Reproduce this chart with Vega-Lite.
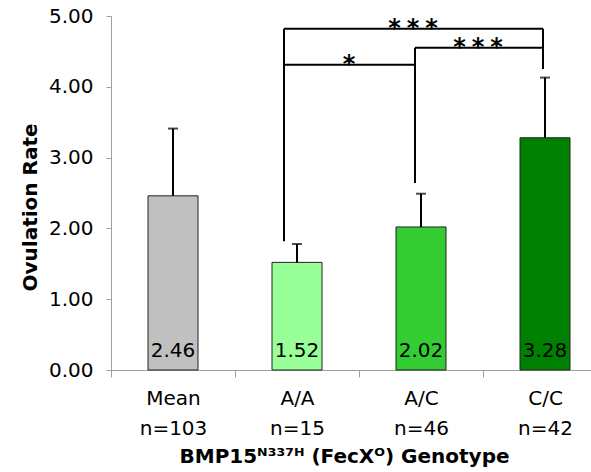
{
  "$schema": "https://vega.github.io/schema/vega-lite/v6.json",
  "autosize": {"type": "none"},
  "padding": {"left": 111, "top": 16, "right": 0, "bottom": 102},
  "width": 496,
  "height": 354,
  "background": "white",
  "config": {
    "font": "DejaVu Sans",
    "view": {"stroke": null}
  },
  "datasets": {
    "bars": [
      {"group": "Mean n=103", "rate": 2.46, "upper": 3.41},
      {"group": "A/A n=15", "rate": 1.52, "upper": 1.78},
      {"group": "A/C n=46", "rate": 2.02, "upper": 2.49},
      {"group": "C/C n=42", "rate": 3.28, "upper": 4.13}
    ],
    "brackets": [
      {"name": "outer", "from": "A/A n=15", "to": "C/C n=42", "level": 4.82, "stars": "*\u2005*\u2005*"},
      {"name": "inner", "from": "A/C n=46", "to": "C/C n=42", "level": 4.55, "stars": "*\u2005*\u2005*"},
      {"name": "single", "from": "A/A n=15", "to": "A/C n=46", "level": 4.31, "stars": "*"}
    ],
    "legs": [
      {"group": "A/A n=15", "low": 1.82, "high": 4.82},
      {"group": "A/C n=46", "low": 2.64, "high": 4.55},
      {"group": "C/C n=42", "low": 4.25, "high": 4.82}
    ]
  },
  "data": {"name": "bars"},
  "encoding": {
    "x": {
      "field": "group",
      "type": "nominal",
      "sort": ["Mean n=103", "A/A n=15", "A/C n=46", "C/C n=42"],
      "scale": {"domain": ["Mean n=103", "A/A n=15", "A/C n=46", "C/C n=42"], "paddingInner": 0, "paddingOuter": 0},
      "axis": {
        "title": "BMP15ᴺ³³⁷ᴴ (FecXᴼ) Genotype",
        "titleFontSize": 20,
        "titleFontWeight": "bold",
        "titleColor": "black",
        "titleX": 233,
        "titleY": 92,
        "titleAlign": "center",
        "titleBaseline": "alphabetic",
        "labelAngle": 0,
        "labelExpr": "isValid(datum.value) ? split(datum.value, ' ') : ''",
        "labelFontSize": 20,
        "labelColor": "black",
        "labelLineHeight": 30,
        "labelPadding": 11,
        "tickBand": "extent",
        "tickSize": 7,
        "tickColor": "#a0a0a0",
        "domainColor": "#a0a0a0",
        "grid": false
      }
    }
  },
  "layer": [
    {
      "mark": {"type": "bar", "width": 50, "stroke": "#222222", "strokeWidth": 1},
      "encoding": {
        "y": {
          "field": "rate",
          "type": "quantitative",
          "scale": {"domain": [0, 5], "nice": false},
          "axis": {
            "title": "Ovulation Rate",
            "titleFontSize": 20,
            "titleFontWeight": "bold",
            "titleColor": "black",
            "titlePadding": 8,
            "titleY": 191,
            "values": [0, 1, 2, 3, 4, 5],
            "format": ".2f",
            "labelFontSize": 20,
            "labelColor": "black",
            "labelPadding": 13,
            "tickSize": 5,
            "tickColor": "#a0a0a0",
            "domainColor": "#a0a0a0",
            "grid": false
          }
        },
        "color": {
          "field": "group",
          "type": "nominal",
          "scale": {"domain": ["Mean n=103", "A/A n=15", "A/C n=46", "C/C n=42"], "range": ["#C0C0C0", "#99FF99", "#33CC33", "#008000"]},
          "legend": null
        }
      }
    },
    {
      "mark": {"type": "rule", "color": "black", "strokeWidth": 2},
      "encoding": {
        "y": {"field": "rate", "type": "quantitative"},
        "y2": {"field": "upper"}
      }
    },
    {
      "mark": {"type": "tick", "color": "black", "thickness": 2, "size": 10, "orient": "horizontal"},
      "encoding": {
        "y": {"field": "upper", "type": "quantitative"}
      }
    },
    {
      "mark": {"type": "text", "fontSize": 20, "color": "black", "baseline": "alphabetic", "dy": -13},
      "encoding": {
        "y": {"datum": 0, "type": "quantitative"},
        "text": {"field": "rate", "type": "quantitative", "format": ".2f"}
      }
    },
    {
      "data": {"name": "brackets"},
      "transform": [{"filter": "datum.name == 'outer'"}],
      "mark": {"type": "rule", "color": "black", "strokeWidth": 2, "xOffset": -13, "x2Offset": -2},
      "encoding": {
        "x": {"field": "from", "type": "nominal"},
        "x2": {"field": "to"},
        "y": {"field": "level", "type": "quantitative"}
      }
    },
    {
      "data": {"name": "brackets"},
      "transform": [{"filter": "datum.name == 'inner'"}],
      "mark": {"type": "rule", "color": "black", "strokeWidth": 2, "xOffset": -6, "x2Offset": -2},
      "encoding": {
        "x": {"field": "from", "type": "nominal"},
        "x2": {"field": "to"},
        "y": {"field": "level", "type": "quantitative"}
      }
    },
    {
      "data": {"name": "brackets"},
      "transform": [{"filter": "datum.name == 'single'"}],
      "mark": {"type": "rule", "color": "black", "strokeWidth": 2, "xOffset": -13, "x2Offset": -6},
      "encoding": {
        "x": {"field": "from", "type": "nominal"},
        "x2": {"field": "to"},
        "y": {"field": "level", "type": "quantitative"}
      }
    },
    {
      "data": {"name": "legs"},
      "transform": [{"filter": "datum.group == 'A/A n=15'"}],
      "mark": {"type": "rule", "color": "black", "strokeWidth": 2, "xOffset": -13},
      "encoding": {
        "x": {"field": "group", "type": "nominal"},
        "y": {"field": "low", "type": "quantitative"},
        "y2": {"field": "high"}
      }
    },
    {
      "data": {"name": "legs"},
      "transform": [{"filter": "datum.group == 'A/C n=46'"}],
      "mark": {"type": "rule", "color": "black", "strokeWidth": 2, "xOffset": -6},
      "encoding": {
        "x": {"field": "group", "type": "nominal"},
        "y": {"field": "low", "type": "quantitative"},
        "y2": {"field": "high"}
      }
    },
    {
      "data": {"name": "legs"},
      "transform": [{"filter": "datum.group == 'C/C n=42'"}],
      "mark": {"type": "rule", "color": "black", "strokeWidth": 2, "xOffset": -2},
      "encoding": {
        "x": {"field": "group", "type": "nominal"},
        "y": {"field": "low", "type": "quantitative"},
        "y2": {"field": "high"}
      }
    },
    {
      "data": {"name": "brackets"},
      "transform": [{"filter": "datum.name == 'outer'"}],
      "mark": {"type": "text", "fontSize": 24, "fontWeight": "bold", "color": "black", "baseline": "alphabetic", "dy": 7, "xOffset": -132},
      "encoding": {
        "x": {"field": "to", "type": "nominal"},
        "y": {"field": "level", "type": "quantitative"},
        "text": {"field": "stars"}
      }
    },
    {
      "data": {"name": "brackets"},
      "transform": [{"filter": "datum.name == 'inner'"}],
      "mark": {"type": "text", "fontSize": 24, "fontWeight": "bold", "color": "black", "baseline": "alphabetic", "dy": 7, "xOffset": -67},
      "encoding": {
        "x": {"field": "to", "type": "nominal"},
        "y": {"field": "level", "type": "quantitative"},
        "text": {"field": "stars"}
      }
    },
    {
      "data": {"name": "brackets"},
      "transform": [{"filter": "datum.name == 'single'"}],
      "mark": {"type": "text", "fontSize": 24, "fontWeight": "bold", "color": "black", "baseline": "alphabetic", "dy": 7, "xOffset": -72},
      "encoding": {
        "x": {"field": "to", "type": "nominal"},
        "y": {"field": "level", "type": "quantitative"},
        "text": {"field": "stars"}
      }
    }
  ]
}
